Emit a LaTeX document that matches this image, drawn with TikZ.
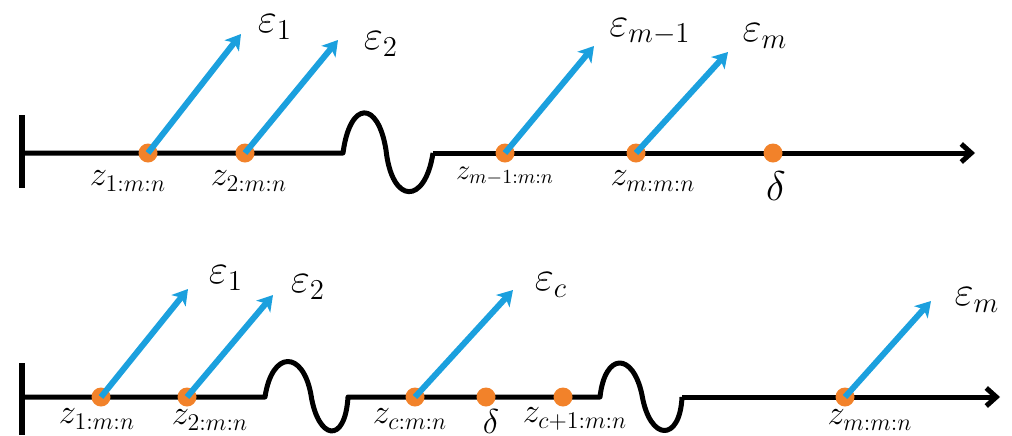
\documentclass[tikz,border=0pt]{standalone}
\usepackage{amsmath}
\usetikzlibrary{arrows.meta}
\definecolor{epsblue}{RGB}{27,160,222}
\definecolor{dotorange}{RGB}{242,130,42}
\begin{document}
\begin{tikzpicture}[x=0.5pt,y=-0.5pt,
  axisline/.style={line width=2.5pt,black},
  wall/.style={line width=3pt,black},
  errarrow/.style={line width=3pt,epsblue,-{Stealth[length=7.5pt,width=9pt,inset=2pt]}},
  pt/.style={circle,fill=dotorange,inner sep=0pt,minimum size=9.5pt},
  elabel/.style={font=\fontsize{20}{22}\selectfont,inner sep=0pt},
  zlabel/.style={font=\fontsize{18}{20}\selectfont,inner sep=0pt},
  zsmall/.style={font=\fontsize{14}{16}\selectfont,inner sep=0pt}]
\useasboundingbox (0,0) rectangle (1012,435);
% ---------------- top axis ----------------
\coordinate (t0) at (22,153);
\coordinate (tw1) at (343,153);
\coordinate (tw2) at (433,153);
\coordinate (tend) at (975,153);
\draw[wall] (22,115) -- (22,188);
\draw[axisline,line join=round] (t0) -- (tw1)
  .. controls (350,100) and (378,100) .. (386,150)
  .. controls (392,205) and (425,205) .. (tw2);
\draw[axisline,-{Straight Barb[length=5pt,width=9pt]}] (tw2) -- (tend);
\node[pt] (a1) at (148,153) {};
\node[pt] (a2) at (245,153) {};
\node[pt] (a3) at (505,153) {};
\node[pt] (a4) at (636,153) {};
\node[pt] (a5) at (773,153) {};
\coordinate (e1) at (241,34);
\coordinate (e2) at (338,40);
\coordinate (e3) at (594,46);
\coordinate (e4) at (728,52);
\draw[errarrow] (a1.center) -- (e1);
\draw[errarrow] (a2.center) -- (e2);
\draw[errarrow] (a3.center) -- (e3);
\draw[errarrow] (a4.center) -- (e4);
\node[elabel] (le1) at (275,27) {$\varepsilon_1$};
\node[elabel] (le2) at (381,44) {$\varepsilon_2$};
\node[elabel] (le3) at (650,32) {$\varepsilon_{m-1}$};
\node[elabel] (le4) at (765,36) {$\varepsilon_m$};
\node[zlabel] (lz1) at (128,181) {$z_{1:m:n}$};
\node[zlabel] (lz2) at (249,181) {$z_{2:m:n}$};
\node[zsmall] (lz3) at (505,176) {$z_{m-1:m:n}$};
\node[zlabel] (lz4) at (653,181) {$z_{m:m:n}$};
\node[elabel] (ld) at (776,186) {$\delta$};
% ---------------- bottom axis ----------------
\coordinate (b0) at (22,397);
\coordinate (bw1) at (265,397);
\coordinate (bw2) at (348,397);
\coordinate (bw3) at (600,397);
\coordinate (bw4) at (682,397);
\coordinate (bend) at (1000,397);
\draw[wall] (22,363) -- (22,435);
\draw[axisline,line join=round] (b0) -- (bw1)
  .. controls (272,350) and (303,350) .. (311,395)
  .. controls (318,440) and (345,445) .. (bw2) -- (bw3)
  .. controls (605,352) and (633,352) .. (642,395)
  .. controls (650,442) and (680,442) .. (bw4);
\draw[axisline,-{Straight Barb[length=5pt,width=9pt]}] (bw4) -- (bend);
\node[pt] (b1) at (101,397) {};
\node[pt] (b2) at (187,397) {};
\node[pt] (b3) at (415,397) {};
\node[pt] (b4) at (486,397) {};
\node[pt] (b5) at (563,397) {};
\node[pt] (b6) at (845,397) {};
\coordinate (f1) at (188,289);
\coordinate (f2) at (273,295);
\coordinate (f3) at (513,290);
\coordinate (f4) at (931,301);
\draw[errarrow] (b1.center) -- (f1);
\draw[errarrow] (b2.center) -- (f2);
\draw[errarrow] (b3.center) -- (f3);
\draw[errarrow] (b6.center) -- (f4);
\node[elabel] (lf1) at (226,278) {$\varepsilon_1$};
\node[elabel] (lf2) at (308,287) {$\varepsilon_2$};
\node[elabel] (lf3) at (551,285) {$\varepsilon_c$};
\node[elabel] (lf4) at (977,300) {$\varepsilon_m$};
\node[zlabel] (ly1) at (97,419) {$z_{1:m:n}$};
\node[zlabel] (ly2) at (210,420) {$z_{2:m:n}$};
\node[zlabel] (ly3) at (410,419) {$z_{c:m:n}$};
\node[font=\fontsize{16}{18}\selectfont,inner sep=0pt] (ly4) at (491,421) {$\delta$};
\node[zlabel] (ly5) at (575,419) {$z_{c+1:m:n}$};
\node[zlabel] (ly6) at (870,420) {$z_{m:m:n}$};
\end{tikzpicture}
\end{document}
